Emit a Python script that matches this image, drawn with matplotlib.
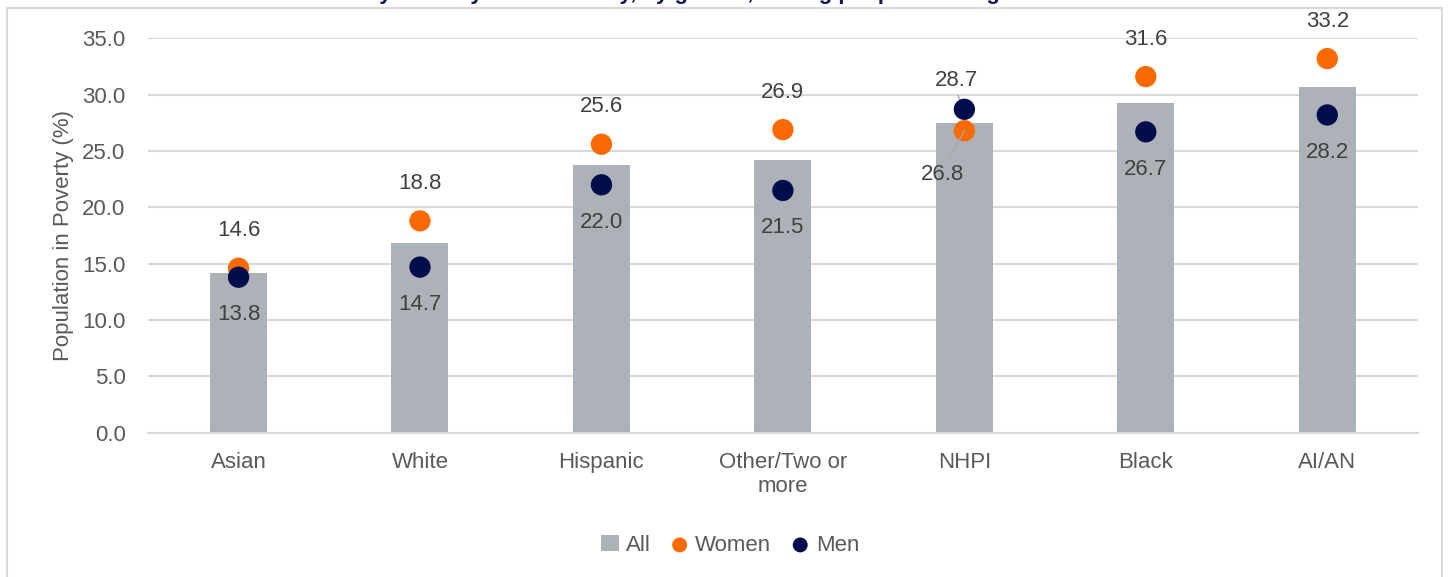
import matplotlib.pyplot as plt
from matplotlib.patches import Rectangle

plt.rcParams['font.family'] = ['Liberation Sans', 'DejaVu Sans']

groups = ['Asian', 'White', 'Hispanic', 'Other/Two or\nmore', 'NHPI', 'Black', 'AI/AN']
all_pct = [14.2, 16.8, 23.8, 24.2, 27.5, 29.3, 30.7]
women_pct = [14.6, 18.8, 25.6, 26.9, 26.8, 31.6, 33.2]
men_pct = [13.8, 14.7, 22.0, 21.5, 28.7, 26.7, 28.2]

bar_col = '#ADB1B8'
women_col = '#FA6A00'
men_col = '#000D4D'
txt_col = '#404040'
axis_col = '#595959'
fs = 16

fig = plt.figure(figsize=(14.49, 5.77), dpi=100)
ax = fig.add_axes([0.102, 0.25, 0.8766, 0.6836])

# outer frame of the chart box
fig.patches.append(Rectangle((0.0045, -0.05), 0.9905, 1.037, transform=fig.transFigure,
                             fill=False, edgecolor='#D9D9D9', linewidth=1.5))

# title mostly cut off at the top in the reference
fig.text(0.5, 1.001, 'Poverty rates by race/ethnicity, by gender, among people of all ages in the U.S.',
         ha='center', va='baseline', fontsize=16, fontweight='bold', color='#0A1A5C')

x = list(range(len(groups)))
b = ax.bar(x, all_pct, width=0.314, color=bar_col, zorder=2, label='All')
w = ax.scatter(x, women_pct, s=235, color=women_col, zorder=3, label='Women', edgecolors='none')
m = ax.scatter(x, men_pct, s=235, color=men_col, zorder=4, label='Men', edgecolors='none')

for i in x:
    if groups[i] == 'NHPI':
        # overlapping points: labels pulled out with leader lines
        ax.annotate(f'{men_pct[i]:.1f}', (i, men_pct[i]), xytext=(-6, 13), textcoords='offset points',
                    ha='center', va='bottom', fontsize=fs, color=txt_col,
                    arrowprops=dict(arrowstyle='-', color='#A6A6A6', lw=1, relpos=(0.5, 0),
                                    shrinkA=1, shrinkB=0))
        ax.annotate(f'{women_pct[i]:.1f}', (i, women_pct[i]), xytext=(-16, -24), textcoords='offset points',
                    ha='center', va='top', fontsize=fs, color=txt_col,
                    arrowprops=dict(arrowstyle='-', color='#A6A6A6', lw=1, relpos=(0.6, 1),
                                    shrinkA=2, shrinkB=0))
    else:
        ax.annotate(f'{women_pct[i]:.1f}', (i, women_pct[i]), xytext=(0, 27), textcoords='offset points',
                    ha='center', va='center', fontsize=fs, color=txt_col)
        ax.annotate(f'{men_pct[i]:.1f}', (i, men_pct[i]), xytext=(0, -27), textcoords='offset points',
                    ha='center', va='center', fontsize=fs, color=txt_col)

ax.set_xlim(-0.5, len(groups) - 0.5)
ax.set_ylim(0, 35)
ax.set_yticks([0, 5, 10, 15, 20, 25, 30, 35])
ax.set_yticklabels([f'{v:.1f}' for v in ax.get_yticks()])
ax.set_xticks(x)
ax.set_xticklabels(groups)
ax.tick_params(axis='both', length=0, labelsize=fs, labelcolor=axis_col)
ax.tick_params(axis='y', pad=16)
ax.tick_params(axis='x', pad=14)
ax.grid(axis='y', color='#D9D9D9', linewidth=1.5, zorder=0)
ax.set_axisbelow(True)
for s in ['top', 'right', 'left']:
    ax.spines[s].set_visible(False)
ax.spines['bottom'].set_color('#D9D9D9')
ax.spines['bottom'].set_linewidth(1.5)
ax.set_ylabel('Population in Poverty (%)', fontsize=fs, color=axis_col, labelpad=6)

leg = fig.legend([b, w, m], ['All', 'Women', 'Men'], loc='center', bbox_to_anchor=(0.504, 0.055), ncol=3,
                 frameon=False, fontsize=fs, handlelength=0.8, handletextpad=0.3, columnspacing=0.9,
                 markerscale=0.7)
for t in leg.get_texts():
    t.set_color(axis_col)

fig.savefig('out.png', dpi=100)
